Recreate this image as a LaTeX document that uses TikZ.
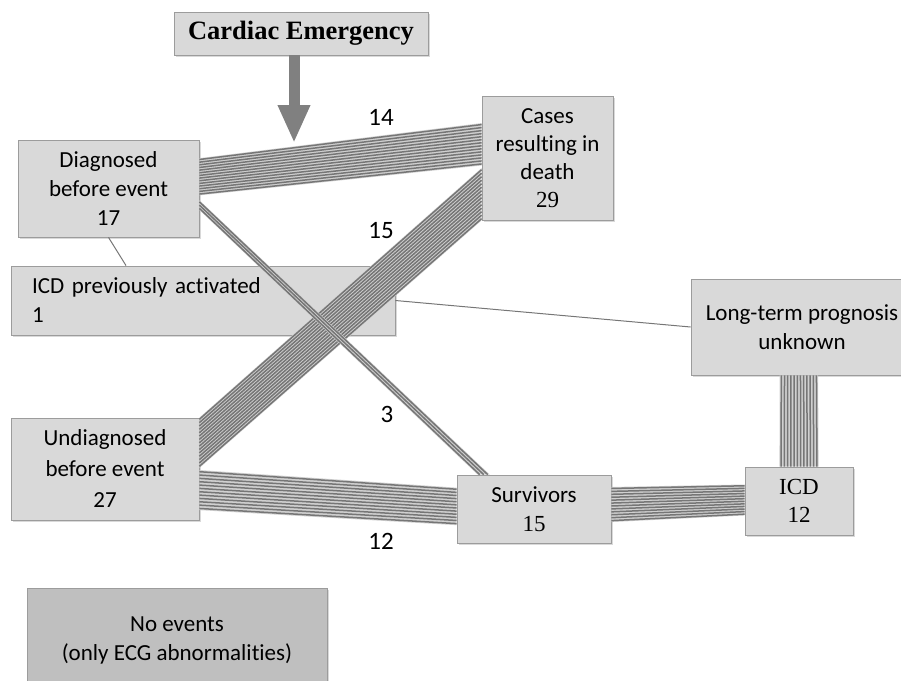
\documentclass[tikz,border=0pt]{standalone}
\usepackage{fontspec}
\setmainfont{Carlito}[Ligatures=NoCommon]
\newfontfamily\tnr{Liberation Serif}
\usetikzlibrary{calc,arrows.meta,shadows}

\definecolor{boxgray}{HTML}{D9D9D9}
\definecolor{boxdark}{HTML}{BFBFBF}
\definecolor{edgegray}{HTML}{9C9C9C}
\definecolor{strandgray}{HTML}{767676}
\definecolor{bandgray}{HTML}{D0D0D0}

% n parallel strands between two edge segments
\newcommand{\bundle}[5]{%
  \fill[bandgray] (#2) -- (#3) -- (#5) -- (#4) -- cycle;
  \foreach \k in {1,...,#1}{%
    \pgfmathsetmacro{\t}{(\k-0.5)/#1}
    \draw[strand] ($(#2)!\t!(#3)$) -- ($(#4)!\t!(#5)$);
  }}

\tikzset{
  box/.style={draw=edgegray, fill=boxgray, line width=0.8pt, inner sep=0pt,
    align=center, font=\fontsize{23}{29}\selectfont,
    drop shadow={shadow xshift=2pt, shadow yshift=-2pt, opacity=0.3}},
  strand/.style={draw=strandgray, line width=1.5pt},
  link/.style={draw=strandgray, line width=1pt},
  lbl/.style={font=\fontsize{25}{30}\selectfont, inner sep=0pt},
  bigarrow/.style={draw=gray, line width=11pt, -{Triangle[width=30pt,length=38pt]}}
}

\begin{document}
\begin{tikzpicture}[x=1pt,y=-1pt]
  \useasboundingbox (0,0) rectangle (901,680);

  \node[box, minimum width=254pt, minimum height=43pt,
    font=\tnr\bfseries\fontsize{26.5}{30}\selectfont] (cardiac) at (301,33.5) {Cardiac Emergency};
  \node[box, minimum width=181pt, minimum height=97pt] (diag) at (108.5,188.5) {Diagnosed\\before event\\17};
  \node[box, minimum width=131pt, minimum height=124pt,
    font=\fontsize{23}{28}\selectfont] (cases) at (547.5,158) {Cases\\resulting in\\death\\{\tnr 29}};
  \node[box, minimum width=384pt, minimum height=69pt, text width=342pt,
    align=left] (icdprev) at (203,300.5) {ICD previously activated\\1};
  \node[box, minimum width=222pt, minimum height=96pt] (longterm) at (802,327) {Long-term prognosis\\unknown};
  \node[box, minimum width=188pt, minimum height=102pt,
    font=\fontsize{23}{31}\selectfont] (undiag) at (105,469) {Undiagnosed\\before event\\27};
  \node[box, minimum width=154pt, minimum height=68pt] (surv) at (534,509) {Survivors\\{\tnr 15}};
  \node[box, minimum width=108pt, minimum height=68pt,
    font=\tnr\fontsize{23}{28}\selectfont] (icd) at (799,501) {ICD\\12};
  \node[box, fill=boxdark, minimum width=300pt, minimum height=104pt] (noev) at (177,640) {No events\\(only ECG abnormalities)};

  % thin links
  \coordinate (ip) at ($(icdprev.north west)!0.3!(icdprev.north east)$);
  \draw[link] (diag.south) -- (ip);
  \draw[link] (icdprev.east) -- (longterm.west);

  % bundle ends
  \coordinate (a1) at ($(diag.north east)!0.19!(diag.south east)$);
  \coordinate (a2) at ($(diag.north east)!0.57!(diag.south east)$);
  \coordinate (b1) at ($(cases.north west)!0.22!(cases.south west)$);
  \coordinate (b2) at ($(cases.north west)!0.56!(cases.south west)$);
  \coordinate (c1) at (undiag.north east);
  \coordinate (c2) at ($(undiag.north east)!0.49!(undiag.south east)$);
  \coordinate (d1) at ($(cases.north west)!0.58!(cases.south west)$);
  \coordinate (d2) at (cases.south west);
  \coordinate (e1) at ($(diag.north east)!0.62!(diag.south east)$);
  \coordinate (e2) at ($(diag.north east)!0.72!(diag.south east)$);
  \coordinate (f1) at ($(surv.north west)!0.214!(surv.north east)$);
  \coordinate (f2) at ($(surv.north west)!0.136!(surv.north east)$);
  \coordinate (g1) at ($(undiag.north east)!0.51!(undiag.south east)$);
  \coordinate (g2) at ($(undiag.north east)!0.90!(undiag.south east)$);
  \coordinate (h1) at ($(surv.north west)!0.19!(surv.south west)$);
  \coordinate (h2) at ($(surv.north west)!0.735!(surv.south west)$);
  \coordinate (i1) at ($(surv.north east)!0.18!(surv.south east)$);
  \coordinate (i2) at ($(surv.north east)!0.69!(surv.south east)$);
  \coordinate (j1) at ($(icd.north west)!0.26!(icd.south west)$);
  \coordinate (j2) at ($(icd.north west)!0.71!(icd.south west)$);
  \coordinate (k1) at ($(icd.north west)!0.32!(icd.north east)$);
  \coordinate (k2) at ($(icd.north west)!0.68!(icd.north east)$);
  \coordinate (l1) at ($(longterm.south west)!0.40!(longterm.south east)$);
  \coordinate (l2) at ($(longterm.south west)!0.572!(longterm.south east)$);

  \bundle{14}{a1}{a2}{b1}{b2}
  \bundle{15}{c1}{c2}{d1}{d2}
  \bundle{3}{e1}{e2}{f1}{f2}
  \bundle{12}{g1}{g2}{h1}{h2}
  \bundle{12}{i1}{i2}{j1}{j2}
  \bundle{12}{k1}{k2}{l1}{l2}

  % arrow into diagnosed group
  \coordinate (hit) at (294,143);
  \draw[bigarrow] (hit |- cardiac.south) -- (hit);

  \node[lbl] (n14) at (381,117) {14};
  \node[lbl] (n15) at (381,231) {15};
  \node[lbl] (n3) at (387,414) {3};
  \node[lbl] (n12) at (381,541) {12};
\end{tikzpicture}
\end{document}
